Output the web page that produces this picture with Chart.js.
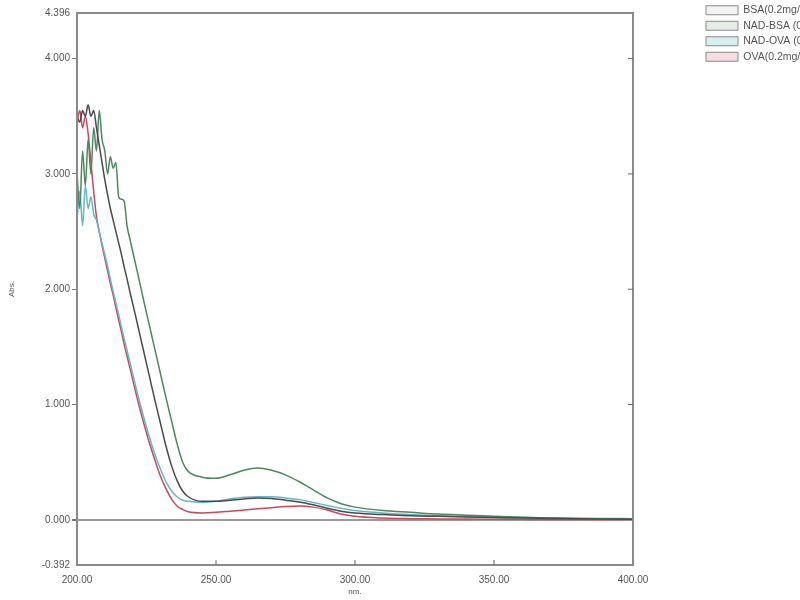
<!DOCTYPE html>
<html>
<head>
<meta charset="utf-8">
<script src="https://cdn.jsdelivr.net/npm/chart.js@4"></script>
<style>
  body { margin:0; background:#fff; }
  #wrap { width:800px; height:600px; }
</style>
</head>
<body>
<div id="wrap"><canvas id="uvChart"></canvas></div>
<script>
// wavelength grid (nm)
const wl = [200,201,202,203,204,205,206,207,208,209,210,211,212,213,214,215,216,217,218,219,220,
  222,224,226,228,230,232,234,236,238,240,
  245,250,255,260,265,270,275,280,285,290,295,300,
  310,320,330,340,350,360,370,380,390,400]

const bsa = [3.5,3.45,3.55,3.5,3.6,3.5,3.55,3.4,3.25,3.1,2.95,2.82,2.7,2.6,2.5,2.4,2.3,2.19,2.09,1.98,1.88,
  1.67,1.46,1.25,1.04,0.84,0.64,0.47,0.34,0.25,0.2,
  0.16,0.16,0.17,0.18,0.19,0.185,0.17,0.155,0.13,0.1,0.075,0.06,
  0.045,0.035,0.03,0.025,0.02,0.015,0.012,0.009,0.007,0.005]

const nadBsa = [3.0,2.7,3.2,2.9,3.3,3.0,3.4,3.2,3.55,3.3,3.2,3.0,3.15,3.05,3.1,2.8,2.78,2.76,2.55,2.44,2.33,
  2.12,1.9,1.69,1.48,1.27,1.06,0.86,0.66,0.5,0.42,
  0.37,0.36,0.39,0.43,0.45,0.43,0.39,0.33,0.26,0.19,0.14,0.11,
  0.08,0.065,0.05,0.04,0.03,0.022,0.016,0.011,0.008,0.005]

const nadOva = [2.6,2.85,2.55,2.9,2.7,2.8,2.65,2.6,2.5,2.4,2.3,2.2,2.09,1.98,1.88,1.78,1.67,1.57,1.47,1.37,1.27,
  1.07,0.89,0.72,0.57,0.44,0.33,0.25,0.2,0.17,0.16,
  0.15,0.16,0.18,0.195,0.2,0.2,0.19,0.175,0.15,0.125,0.1,0.08,
  0.06,0.045,0.035,0.03,0.025,0.02,0.016,0.013,0.011,0.01]

const ova = [3.45,3.55,3.4,3.5,3.35,3.1,2.85,2.63,2.5,2.38,2.27,2.16,2.05,1.95,1.84,1.73,1.63,1.52,1.42,1.32,1.22,
  1.02,0.84,0.67,0.52,0.38,0.27,0.18,0.12,0.09,0.07,
  0.06,0.065,0.075,0.085,0.095,0.105,0.115,0.12,0.11,0.085,0.05,0.03,
  0.015,0.01,0.008,0.006,0.005,0.004,0.003,0.003,0.002,0.002]

const seriesNames = ['BSA(0.2mg/ml)','NAD-BSA (0.2mg/ml)','NAD-OVA (0.2mg/ml)','OVA(0.2mg/ml)']
const yTicks = [-0.392,0,1,2,3,4,4.396]
const xTicks = [200,250,300,350,400]

const colors = ['#4a4a4a','#4f8560','#62b8c4','#c44a5c']
const tints = ['#f2f2f2','#e4eee7','#d8eff2','#f6dde1']

function pts(vals){ return vals.map((v,i)=>({x:wl[i], y:v})) }

// frame + inward tick marks on bottom and right
const frame = {
  id:'frame',
  afterDatasetsDraw(chart){
    const {ctx, chartArea:a, scales} = chart
    ctx.save()
    ctx.strokeStyle='#8a8a8a'
    ctx.lineWidth=2
    ctx.strokeRect(a.left,a.top,a.right-a.left,a.bottom-a.top)
    ctx.lineWidth=1
    ctx.strokeStyle='#666'
    xTicks.slice(1,-1).forEach(v=>{
      const px=scales.x.getPixelForValue(v)
      ctx.beginPath(); ctx.moveTo(px,a.bottom); ctx.lineTo(px,a.bottom-5); ctx.stroke()
    })
    yTicks.slice(2,-1).forEach(v=>{
      const py=scales.y.getPixelForValue(v)
      ctx.beginPath(); ctx.moveTo(a.right,py); ctx.lineTo(a.right-5,py); ctx.stroke()
    })
    ctx.restore()
  }
}

let chart = new Chart(document.getElementById('uvChart'),{
  type:'line',
  data:{
    datasets:[bsa,nadBsa,nadOva,ova].map((s,i)=>({
      label:seriesNames[i],
      data:pts(s),
      borderColor:colors[i],
      backgroundColor:tints[i],
      borderWidth:1.5,
      pointRadius:0,
      fill:false,
      cubicInterpolationMode:'monotone'
    }))
  },
  options:{
    responsive:true,
    maintainAspectRatio:false,
    animation:false,
    layout:{padding:0},
    plugins:{
      tooltip:{enabled:false},
      legend:{
        position:'right',
        align:'start',
        maxWidth:99,
        labels:{
          boxWidth:32,
          boxHeight:9,
          padding:5,
          color:'#555',
          font:{family:'Liberation Sans',size:10.5},
          generateLabels(c){
            return c.data.datasets.map((d,i)=>({
              text:d.label, fillStyle:tints[i], strokeStyle:'#8a8a8a',
              lineWidth:1, datasetIndex:i, fontColor:'#555'
            }))
          }
        }
      }
    },
    scales:{
      x:{
        type:'linear', min:200, max:400,
        afterBuildTicks:s=>{ s.ticks = xTicks.map(v=>({value:v})) },
        afterFit:s=>{ s.height=35 },
        grid:{drawOnChartArea:false, drawTicks:false},
        border:{display:false},
        ticks:{padding:9, maxRotation:0, color:'#555', font:{family:'Liberation Sans',size:10},
          callback:v=>v.toFixed(2)},
        title:{display:true, text:'nm.', color:'#555', font:{family:'Liberation Sans',size:8}, padding:{top:0,bottom:3}}
      },
      x2:{
        type:'linear', position:'top', display:true,
        afterFit:s=>{ s.height=13 },
        grid:{drawOnChartArea:false, drawTicks:false},
        border:{display:false},
        ticks:{display:false}
      },
      y:{
        min:-0.392, max:4.396,
        afterBuildTicks:s=>{ s.ticks = yTicks.map(v=>({value:v})) },
        afterFit:s=>{ s.width=77 },
        grid:{
          color:c=>c.tick && c.tick.value===0 ? '#9a9a9a' : 'rgba(0,0,0,0)',
          lineWidth:c=>c.tick && c.tick.value===0 ? 2 : 1,
          tickLength:5,
          tickColor:c=>(c.tick && c.tick.value>=0 && c.tick.value<=4) ? '#777' : 'rgba(0,0,0,0)'
        },
        border:{display:false},
        ticks:{padding:2, color:'#555', font:{family:'Liberation Sans',size:10},
          callback:v=>v.toFixed(3)},
        title:{display:true, text:'Abs.', color:'#555', font:{family:'Liberation Sans',size:8}, padding:{top:7,bottom:0}}
      },
      y2:{
        type:'linear', position:'right', display:true,
        afterFit:s=>{ s.width=68 },
        grid:{drawOnChartArea:false, drawTicks:false},
        border:{display:false},
        ticks:{display:false}
      }
    }
  },
  plugins:[frame]
})
</script>
</body>
</html>
